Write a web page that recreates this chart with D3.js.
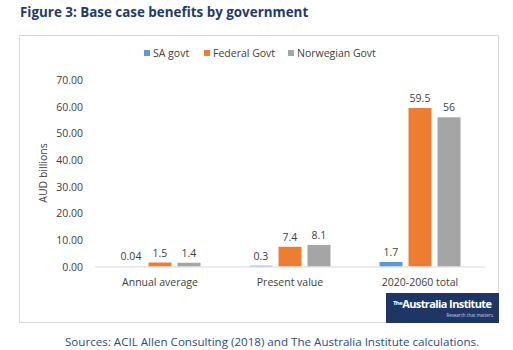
<!DOCTYPE html>
<html>
<head>
<meta charset="utf-8">
<script src="https://cdn.jsdelivr.net/npm/d3@7"></script>
<style>
  body { margin: 0; background: #fff; }
  text { font-family: "Open Sans", "DejaVu Sans", sans-serif; }
</style>
</head>
<body>
<script>
// 数据
const categories = ['Annual average', 'Present value', '2020-2060 total'];
const series = ['SA govt', 'Federal Govt', 'Norwegian Govt'];
const sa_values = [0.04, 0.3, 1.7];
const federal_values = [1.5, 7.4, 59.5];
const norwegian_values = [1.4, 8.1, 56];
const value_labels = [['0.04', '0.3', '1.7'], ['1.5', '7.4', '59.5'], ['1.4', '8.1', '56']];
const y_ticks = [0, 10, 20, 30, 40, 50, 60, 70];
const colors = ['#5b9bd5', '#ed7d31', '#a5a5a5'];

const width = 513;
const height = 350;
const all_values = [sa_values, federal_values, norwegian_values];

const svg = d3.select('body').append('svg')
    .attr('width', width)
    .attr('height', height);

// 标题
svg.append('text')
    .attr('x', 20).attr('y', 17)
    .attr('font-size', 13.4).attr('font-weight', 'bold')
    .attr('fill', '#1f3a6b')
    .text('Figure 3: Base case benefits by government');

// 图框
svg.append('rect')
    .attr('x', 19.5).attr('y', 35.5)
    .attr('width', 479).attr('height', 287)
    .attr('fill', 'white').attr('stroke', '#d9d9d9');

// 比例尺
const x = d3.scaleBand().domain(categories).range([95, 485]);
const y = d3.scaleLinear().domain([0, 70]).range([266.5, 80]);
const bar_w = 23, bar_gap = 6;

// y 轴刻度
svg.append('g').selectAll('text')
    .data(y_ticks).enter().append('text')
    .attr('x', 83).attr('y', d => y(d) + 4)
    .attr('text-anchor', 'end')
    .attr('font-size', 10.5).attr('fill', '#404040')
    .text(d => d3.format('.2f')(d));

svg.append('text')
    .attr('transform', 'translate(47,173) rotate(-90)')
    .attr('text-anchor', 'middle')
    .attr('font-size', 10.5).attr('fill', '#404040')
    .text('AUD billions');

// 柱子
series.forEach((s, i) => {
    const g = svg.append('g');
    const offset = (i - 1) * (bar_w + bar_gap) - bar_w / 2;
    g.selectAll('rect')
        .data(all_values[i]).enter().append('rect')
        .attr('x', (d, j) => x(categories[j]) + x.bandwidth() / 2 + offset)
        .attr('y', d => y(d))
        .attr('width', bar_w)
        .attr('height', d => y(0) - y(d))
        .attr('fill', colors[i]);
    g.selectAll('text')
        .data(all_values[i]).enter().append('text')
        .attr('x', (d, j) => x(categories[j]) + x.bandwidth() / 2 + offset + bar_w / 2)
        .attr('y', d => y(d) - 6)
        .attr('text-anchor', 'middle')
        .attr('font-size', 10.5).attr('fill', '#404040')
        .text((d, j) => value_labels[i][j]);
});

// 基线
svg.append('line')
    .attr('x1', 95).attr('x2', 485)
    .attr('y1', y(0) + 0.5).attr('y2', y(0) + 0.5)
    .attr('stroke', '#d9d9d9');

// x 轴标签
svg.append('g').selectAll('text')
    .data(categories).enter().append('text')
    .attr('x', d => x(d) + x.bandwidth() / 2)
    .attr('y', 286)
    .attr('text-anchor', 'middle')
    .attr('font-size', 10.5).attr('fill', '#404040')
    .text(d => d);

// 图例
const legend_x = [144, 204, 288];
const legend = svg.append('g').selectAll('g')
    .data(series).enter().append('g')
    .attr('transform', (d, i) => `translate(${legend_x[i]},50)`);
legend.append('rect')
    .attr('width', 6).attr('height', 6)
    .attr('fill', (d, i) => colors[i]);
legend.append('text')
    .attr('x', 9).attr('y', 7)
    .attr('font-size', 10.5).attr('fill', '#404040')
    .text(d => d);

// logo
svg.append('rect')
    .attr('x', 386).attr('y', 293)
    .attr('width', 113).attr('height', 30)
    .attr('fill', '#1f3566');
svg.append('text')
    .attr('x', 393).attr('y', 308)
    .attr('font-size', 11).attr('font-weight', 'bold')
    .attr('fill', 'white').attr('letter-spacing', -0.6)
    .html('<tspan font-size="6" dy="-3">The</tspan><tspan dy="3">Australia Institute</tspan>');
svg.append('text')
    .attr('x', 494).attr('y', 317)
    .attr('text-anchor', 'end')
    .attr('font-size', 4.5).attr('fill', '#c8d0e0')
    .text('Research that matters.');

// 来源
svg.append('text')
    .attr('x', 65).attr('y', 346)
    .attr('font-size', 11.6).attr('fill', '#1f4e8c')
    .text('Sources: ACIL Allen Consulting (2018) and The Australia Institute calculations.');
</script>
</body>
</html>
